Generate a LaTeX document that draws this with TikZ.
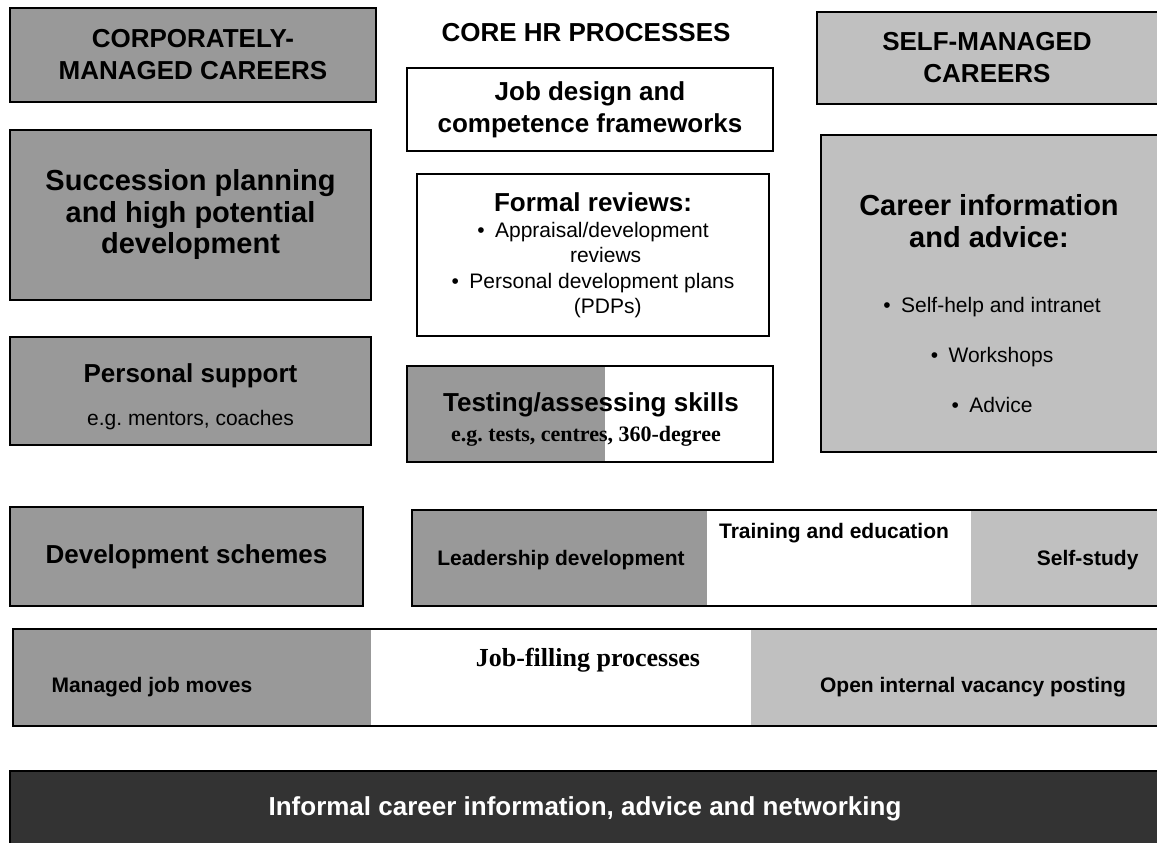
\documentclass[tikz,border=0pt]{standalone}
\usepackage{fontspec}
\setmainfont{Liberation Sans}
\newfontfamily\timesbf{Liberation Serif}
\definecolor{corpgrey}{HTML}{999999}
\definecolor{selfgrey}{HTML}{C0C0C0}
\definecolor{infogrey}{HTML}{333333}

\tikzset{
  box/.style={draw=black,line width=1.6pt,inner sep=0pt},
  corpbox/.style={box,fill=corpgrey},
  selfbox/.style={box,fill=selfgrey},
  corebox/.style={box,fill=white},
  hdtext/.style={font=\fontsize{26}{32}\selectfont\bfseries,align=center},
  bigtext/.style={font=\fontsize{29}{31.5}\selectfont\bfseries,align=center},
  smtext/.style={font=\fontsize{21}{25.5}\selectfont,align=center},
  smbtext/.style={font=\fontsize{21}{25}\selectfont\bfseries,align=center},
  sertext/.style={font=\timesbf\bfseries\fontsize{22}{26}\selectfont,align=center}
}

\begin{document}
\begin{tikzpicture}[x=1pt,y=-1pt]
\useasboundingbox (0,0) rectangle (1157,843);
\clip (0,0) rectangle (1157,843);

% left column: corporately-managed
\node[corpbox,hdtext,minimum width=366pt,minimum height=94pt] (corp) at (193,55) {CORPORATELY-\\MANAGED CAREERS};
\node[corpbox,bigtext,minimum width=361pt,minimum height=170pt] (succ) at (190.5,215) {Succession planning\\and high potential\\development};
\node[corpbox,minimum width=361pt,minimum height=108pt] (pers) at (190.5,391) {};
\node[hdtext] (persT) at (190.5,376) {Personal support};
\node[smtext] (persS) at (190.5,420) {e.g.\ mentors, coaches};
\node[corpbox,hdtext,minimum width=353pt,minimum height=99pt] (devs) at (186.5,556.5) {Development schemes};

% middle column: core HR processes
\node[hdtext] (core) at (586,33) {CORE HR PROCESSES};
\node[corebox,hdtext,minimum width=366pt,minimum height=83pt] (jobd) at (590,109.5) {Job design and\\competence frameworks};
\node[corebox,minimum width=352pt,minimum height=162pt] (form) at (593,255) {};
\node[hdtext] (formT) at (593,202) {Formal reviews:};
\node[smtext] (formB) at (593,270) {•\hspace{0.5em}Appraisal/development\\\hspace*{1.2em}reviews\\•\hspace{0.5em}Personal development plans\\\hspace*{1.4em}(PDPs)};
\fill[corpgrey] (407,366) rectangle (605,462);
\node[box,minimum width=366pt,minimum height=96pt] (test) at (590,414) {};
\node[hdtext] (testT) at (591,405) {Testing/assessing skills};
\node[sertext] (testS) at (586,436) {e.g.\ tests, centres, 360-degree};

% right column: self-managed
\node[selfbox,minimum width=348pt,minimum height=92pt] (self) at (991,58) {};
\node[hdtext] (selfT) at (987,58) {SELF-MANAGED\\CAREERS};
\node[selfbox,minimum width=344pt,minimum height=317pt] (info) at (993,293.5) {};
\node[bigtext] (infoT) at (989,221) {Career information\\and advice:};
\node[smtext,font=\fontsize{21}{50}\selectfont] (infoB) at (992,355) {•\hspace{0.5em}Self-help and intranet\\•\hspace{0.5em}Workshops\\•\hspace{0.5em}Advice};

% training and education row
\fill[corpgrey] (412,510) rectangle (707,606);
\fill[selfgrey] (971,510) rectangle (1165,606);
\node[box,minimum width=753pt,minimum height=96pt] (train) at (788.5,558) {};
\node[smbtext] (trainT) at (834,533) {Training and education};
\node[smbtext] (lead) at (561,560) {Leadership development};
\node[smbtext,anchor=east] (study) at (1142,560) {Self-study};

% job-filling row
\fill[corpgrey] (13,629) rectangle (371,726);
\fill[selfgrey] (751,629) rectangle (1165,726);
\node[box,minimum width=1152pt,minimum height=97pt] (fill) at (589,677.5) {};
\node[sertext,font=\timesbf\bfseries\fontsize{26}{30}\selectfont] (fillT) at (588,660) {Job-filling processes};
\node[smbtext,anchor=west] (moves) at (48,687) {Managed job moves};
\node[smbtext] (post) at (973,687) {Open internal vacancy posting};

% informal bar
\node[box,fill=infogrey,minimum width=1155pt,minimum height=80pt] (infor) at (587.5,811) {};
\node[hdtext,text=white] (inforT) at (585,809) {Informal career information, advice and networking};
\end{tikzpicture}
\end{document}
